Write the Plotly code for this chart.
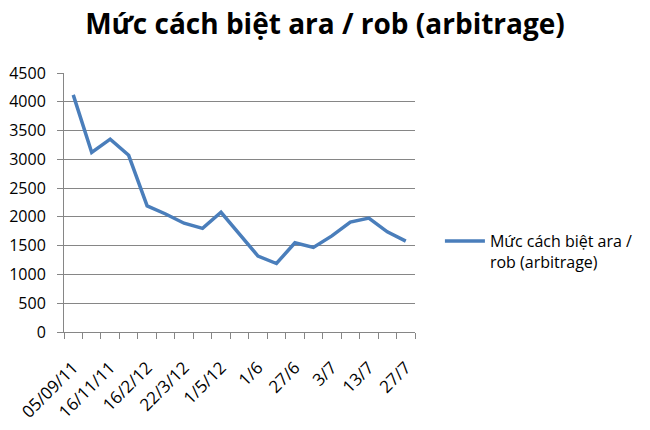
import plotly.graph_objects as go

title_text = "Mức cách biệt ara / rob (arbitrage)"
series_name = "Mức cách biệt ara /<br>rob (arbitrage)"
values = [4120, 3120, 3350, 3070, 2190, 2050, 1890, 1800, 2080, 1700,
          1320, 1190, 1550, 1470, 1670, 1910, 1980, 1740, 1580]
tick_labels = ["05/09/11", "16/11/11", "16/2/12", "22/3/12", "1/5/12",
               "1/6", "27/6", "3/7", "13/7", "27/7"]
y_ticks = [0, 500, 1000, 1500, 2000, 2500, 3000, 3500, 4000, 4500]

x = list(range(len(values)))
tick_pos = x[::2]

fig = go.Figure()
fig.add_trace(go.Scatter(x=x, y=values, mode="lines", name=series_name,
                         line=dict(color="#4A7EBB", width=3.5),
                         showlegend=True))

fig.update_layout(
    width=642, height=422,
    margin=dict(l=56, r=232, t=65, b=98),
    paper_bgcolor="white", plot_bgcolor="white",
    title=dict(text="<b>" + title_text + "</b>", x=0.4938, xanchor="center",
               xref="container", yref="container",
               y=0.985, yanchor="top", pad=dict(t=0, b=0),
               font=dict(family="Open Sans", size=28, color="black")),
    showlegend=True,
    legend=dict(x=1.071, xanchor="left", y=0.31, yanchor="middle",
                valign="top", itemwidth=40,
                font=dict(family="Open Sans", size=16, color="black"),
                bgcolor="rgba(0,0,0,0)"),
    xaxis=dict(range=[-0.5, len(values) - 0.5], tickmode="array",
               tickvals=tick_pos, ticktext=tick_labels, tickangle=-45,
               ticks="", showgrid=False, zeroline=False, automargin=False,
               showline=True, linecolor="#868686", linewidth=1,
               ticklabelstandoff=18,
               tickfont=dict(family="Open Sans", size=17, color="black"),
               minor=dict(tickmode="linear", tick0=-0.5, dtick=1,
                          ticks="outside", ticklen=6, tickcolor="#868686",
                          showgrid=False)),
    yaxis=dict(range=[0, 4500], tickmode="array", tickvals=y_ticks,
               showgrid=True, gridcolor="#868686", gridwidth=1,
               zeroline=False, showline=True, linecolor="#868686",
               linewidth=1, ticks="outside", ticklen=6, tickcolor="#868686",
               ticklabelstandoff=8, automargin=False,
               tickfont=dict(family="Open Sans", size=16, color="black")),
)

fig.write_html("out.html")
